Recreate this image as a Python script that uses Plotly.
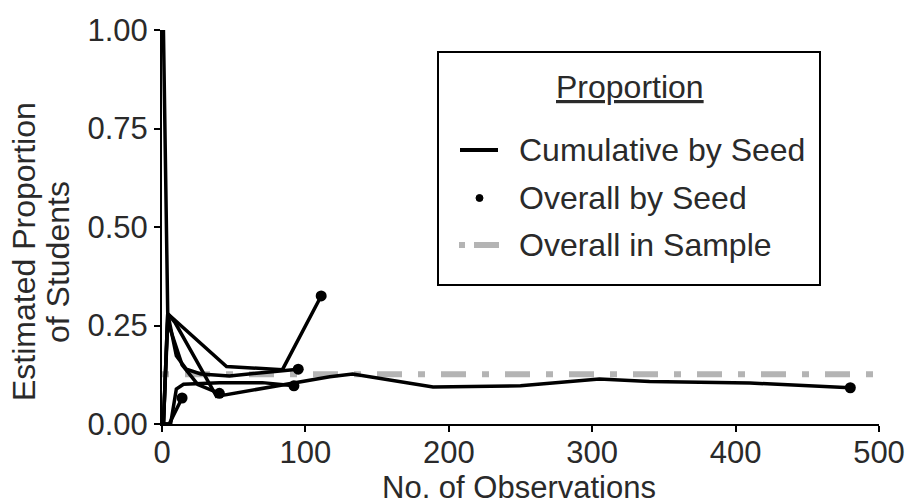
import plotly.graph_objects as go

# Cumulative estimate of the proportion, one series per seed
obs_a = [1, 4, 45, 84, 111]
prop_a = [1.00, 0.28, 0.146, 0.138, 0.325]
obs_b = [1, 4, 10, 17, 27, 47, 95]
prop_b = [0.0, 0.28, 0.173, 0.139, 0.127, 0.122, 0.139]
obs_c = [1, 6, 10, 15, 40, 70, 92]
prop_c = [0.0, 0.0, 0.089, 0.101, 0.105, 0.105, 0.097]
obs_d = [1, 5, 14]
prop_d = [0.0, 0.0, 0.066]
obs_e = [1, 4, 14, 25, 40]
prop_e = [0.0, 0.26, 0.15, 0.10, 0.078]
obs_f = [1, 4, 9, 38, 117, 133, 189, 250, 305, 340, 410, 480]
prop_f = [0.0, 0.28, 0.258, 0.07, 0.12, 0.127, 0.094, 0.097, 0.114, 0.108, 0.104, 0.092]

seeds = [(obs_a, prop_a), (obs_b, prop_b), (obs_c, prop_c),
         (obs_d, prop_d), (obs_e, prop_e), (obs_f, prop_f)]

overall_sample = 0.126
x_range = [0, 500]
x_ticks = [0, 100, 200, 300, 400, 500]
y_ticks = [0.0, 0.25, 0.50, 0.75, 1.00]

W, H = 910, 504
ML, MR, MT, MB = 162, 31, 30, 80
PW, PH = W - ML - MR, H - MT - MB


def px_x(px):
    return (px - ML) / PW


def px_y(py):
    return (H - MB - py) / PH


FONT = "Liberation Sans, Arial, sans-serif"
FS = 31        # tick labels and x title
FS_BIG = 32    # legend and y title
TXT = "#2a2a2a"
GREY = "#b4b4b4"

fig = go.Figure()

# overall proportion across the whole sample
fig.add_trace(go.Scatter(
    x=x_range, y=[overall_sample, overall_sample], mode="lines",
    line=dict(color=GREY, width=6, dash="7px,16px,25px,16px"),
    hoverinfo="skip", showlegend=False))

# cumulative paths
for xs, ys in seeds:
    fig.add_trace(go.Scatter(
        x=xs, y=ys, mode="lines", cliponaxis=False,
        line=dict(color="black", width=3.5), showlegend=False))

# overall value per seed (final point of each path)
fig.add_trace(go.Scatter(
    x=[s[0][-1] for s in seeds], y=[s[1][-1] for s in seeds],
    mode="markers", cliponaxis=False,
    marker=dict(color="black", size=11), showlegend=False))

shapes = []
annotations = []

# legend panel
shapes.append(dict(type="rect", xref="paper", yref="paper",
                   x0=px_x(438), x1=px_x(820), y0=px_y(285), y1=px_y(52),
                   line=dict(color="black", width=2), fillcolor="white",
                   layer="above"))
annotations.append(dict(text="<u>Proportion</u>", xref="paper", yref="paper",
                        x=px_x(630), y=px_y(87), xanchor="center",
                        yanchor="middle", showarrow=False,
                        font=dict(family=FONT, size=FS_BIG, color=TXT)))
legend_rows = [("Cumulative by Seed", 150), ("Overall by Seed", 198),
               ("Overall in Sample", 245)]
for label, py in legend_rows:
    annotations.append(dict(text=label, xref="paper", yref="paper",
                            x=px_x(517), y=px_y(py), xanchor="left",
                            yanchor="middle", showarrow=False,
                            font=dict(family=FONT, size=FS_BIG, color=TXT)))
shapes.append(dict(type="line", xref="paper", yref="paper",
                   x0=px_x(460), x1=px_x(498), y0=px_y(150), y1=px_y(150),
                   line=dict(color="black", width=4), layer="above"))
shapes.append(dict(type="circle", xref="paper", yref="paper",
                   x0=px_x(476), x1=px_x(483), y0=px_y(201.5), y1=px_y(194.5),
                   line=dict(color="black", width=1), fillcolor="black",
                   layer="above"))
shapes.append(dict(type="line", xref="paper", yref="paper",
                   x0=px_x(459), x1=px_x(465), y0=px_y(245), y1=px_y(245),
                   line=dict(color=GREY, width=6), layer="above"))
shapes.append(dict(type="line", xref="paper", yref="paper",
                   x0=px_x(474), x1=px_x(499), y0=px_y(245), y1=px_y(245),
                   line=dict(color=GREY, width=6), layer="above"))

# axis titles
annotations.append(dict(text="Estimated Proportion", xref="paper", yref="paper",
                        x=px_x(24), y=px_y(252), textangle=-90,
                        xanchor="center", yanchor="middle", showarrow=False,
                        font=dict(family=FONT, size=FS_BIG, color=TXT)))
annotations.append(dict(text="of Students", xref="paper", yref="paper",
                        x=px_x(58), y=px_y(262), textangle=-90,
                        xanchor="center", yanchor="middle", showarrow=False,
                        font=dict(family=FONT, size=FS_BIG, color=TXT)))
annotations.append(dict(text="No. of Observations", xref="paper", yref="paper",
                        x=px_x(519), y=px_y(487), xanchor="center",
                        yanchor="middle", showarrow=False,
                        font=dict(family=FONT, size=FS, color=TXT)))

fig.update_layout(
    width=W, height=H, margin=dict(l=ML, r=MR, t=MT, b=MB),
    paper_bgcolor="white", plot_bgcolor="white",
    shapes=shapes, annotations=annotations, showlegend=False,
    font=dict(family=FONT, size=FS, color=TXT),
)
fig.update_xaxes(range=x_range, tickvals=x_ticks, showgrid=False,
                 zeroline=False, showline=True, linecolor="black",
                 linewidth=2, ticks="outside", ticklen=6, tickwidth=1.5,
                 tickcolor="black", tickfont=dict(size=FS, color=TXT),
                 automargin=False, ticklabelstandoff=-6)
fig.update_yaxes(range=[0, 1], tickvals=y_ticks, tickformat=".2f",
                 showgrid=False, zeroline=False, showline=True,
                 linecolor="black", linewidth=2, ticks="outside", ticklen=6,
                 tickwidth=1.5, tickcolor="black",
                 tickfont=dict(size=FS, color=TXT), automargin=False)

fig.write_html("out.html")
